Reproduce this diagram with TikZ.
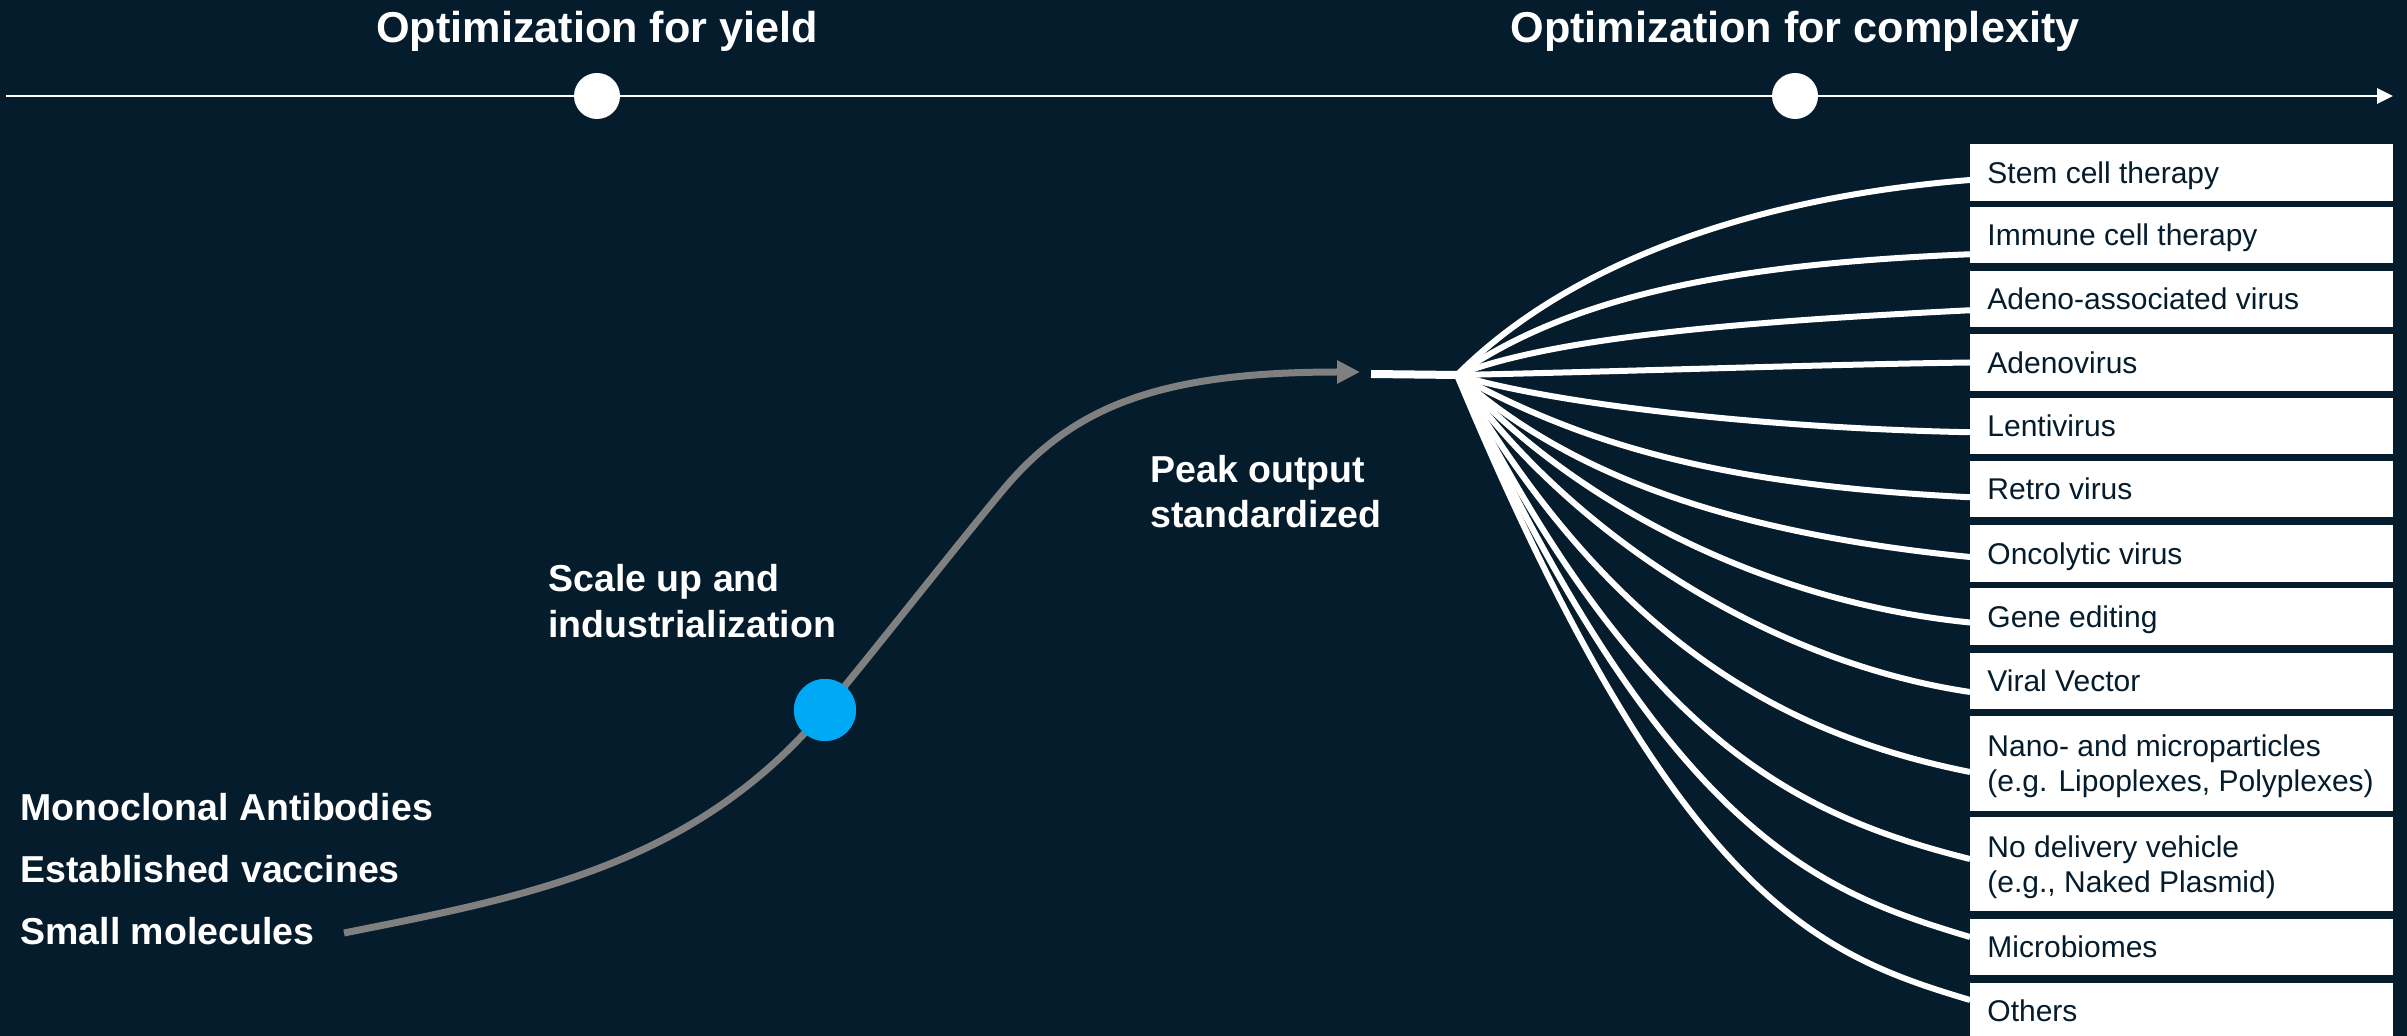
\documentclass[tikz,border=0pt]{standalone}
\usepackage{fontspec}
\setmainfont{Liberation Sans}
\usetikzlibrary{arrows.meta,calc}
\definecolor{bg}{HTML}{051C2C}
\definecolor{curvegray}{HTML}{808080}
\definecolor{dotblue}{HTML}{00A9F4}
\tikzset{
  boxst/.style={fill=white, draw=none, anchor=north west, minimum width=211.5pt, inner sep=0pt, outer sep=0pt},
  btxt/.style={anchor=base west, inner sep=0pt, text=bg, font=\fontsize{15pt}{17.5pt}\selectfont},
  lbl/.style={anchor=base west, inner sep=0pt, text=white, font=\bfseries\fontsize{18.75pt}{22pt}\selectfont},
  hdr/.style={anchor=base, inner sep=0pt, text=white, font=\bfseries\fontsize{21.6pt}{26pt}\selectfont},
  fanline/.style={draw=white, line width=3pt},
  tlcirc/.style={circle, fill=white, minimum size=23pt, inner sep=0pt},
  bluedot/.style={circle, fill=dotblue, minimum size=31pt, inner sep=0pt},
  growth/.style={draw=curvegray, line width=3.5pt, -{Triangle[length=11.5pt,width=11pt]}},
}
\begin{document}
\begin{tikzpicture}[x=0.5pt,y=-0.5pt]
\useasboundingbox (0,0) rectangle (2407,1036);
\fill[bg] (0,0) rectangle (2407,1036);
\clip (0,0) rectangle (2407,1036);

% timeline
\coordinate (tl0) at (6,96);
\coordinate (tl1) at (2393,96);
\draw[white, line width=1.4pt, -{Triangle[length=8pt,width=7.5pt]}] (tl0) -- (tl1);
\node[tlcirc] (c1) at (597,96) {};
\node[tlcirc] (c2) at (1795,96) {};
\node[hdr] (h1) at (597,43) {Optimization for yield};
\node[hdr] (h2) at (1795,43) {Optimization for complexity};

% left labels
\node[lbl] (m1) at (20,820) {Monoclonal Antibodies};
\node[lbl] (m2) at (20,882) {Established vaccines};
\node[lbl] (m3) at (20,944) {Small molecules};
\node[lbl] (s1) at (548,592) {Scale up and};
\node[lbl] (s2) at (548,638) {industrialization};
\node[lbl] (p1) at (1150,483) {Peak output};
\node[lbl] (p2) at (1150,528) {standardized};

% growth curve
\coordinate (gstart) at (344,933);
\coordinate (gmid) at (1003,490);
\coordinate (gend) at (1360,372);
\node[bluedot] (dot) at (825,710) {};
\draw[growth] (gstart) .. controls (524,897) and (695,866) .. (dot.center)
  .. controls (875,650) and (953,550) .. (gmid)
  .. controls (1073,406) and (1160,372) .. (gend);
\node[bluedot] at (dot.center) {};

% boxes
\node[boxst, minimum height=28.5pt]  (b1)  at (1970,144) {};
\node[boxst, minimum height=28.25pt] (b2)  at (1970,207) {};
\node[boxst, minimum height=28.25pt] (b3)  at (1970,271) {};
\node[boxst, minimum height=28.5pt]  (b4)  at (1970,334) {};
\node[boxst, minimum height=28.25pt] (b5)  at (1970,398) {};
\node[boxst, minimum height=28.25pt] (b6)  at (1970,461) {};
\node[boxst, minimum height=28.5pt]  (b7)  at (1970,525) {};
\node[boxst, minimum height=28.5pt]  (b8)  at (1970,588) {};
\node[boxst, minimum height=28pt]    (b9)  at (1970,653) {};
\node[boxst, minimum height=47.5pt]  (b10) at (1970,716) {};
\node[boxst, minimum height=47pt]    (b11) at (1970,817) {};
\node[boxst, minimum height=28pt]    (b12) at (1970,919) {};
\node[boxst, minimum height=28pt]    (b13) at (1970,983) {};

\node[btxt] at ($(b1.west)+(17,10.75)$) {Stem cell therapy};
\node[btxt] at ($(b2.west)+(17,10.75)$) {Immune cell therapy};
\node[btxt] at ($(b3.west)+(17,10.75)$) {Adeno-associated virus};
\node[btxt] at ($(b4.west)+(17,10.75)$) {Adenovirus};
\node[btxt] at ($(b5.west)+(17,10.75)$) {Lentivirus};
\node[btxt] at ($(b6.west)+(17,10.75)$) {Retro virus};
\node[btxt] at ($(b7.west)+(17,10.75)$) {Oncolytic virus};
\node[btxt] at ($(b8.west)+(17,10.75)$) {Gene editing};
\node[btxt] at ($(b9.west)+(17,10.75)$) {Viral Vector};
\node[btxt] at ($(b10.west)+(17,-7)$) {Nano- and microparticles};
\node[btxt] at ($(b10.west)+(17,28)$) {(e.g. Lipoplexes, Polyplexes)};
\node[btxt] at ($(b11.west)+(17,-7)$) {No delivery vehicle};
\node[btxt] at ($(b11.west)+(17,28)$) {(e.g., Naked Plasmid)};
\node[btxt] at ($(b12.west)+(17,10.75)$) {Microbiomes};
\node[btxt] at ($(b13.west)+(17,10.75)$) {Others};

% fan
\coordinate (wstart) at (1371,374);
\coordinate (fan) at (1457,375);
\draw[white, line width=4pt] (wstart) -- (fan);
\draw[fanline] (fan) .. controls +(120,-120) and +(-200,16) .. ($(b1.west)+(0,7.5)$);
\draw[fanline] (fan) .. controls +(120,-84) and +(-220,9) .. ($(b2.west)+(0,19)$);
\draw[fanline] (fan) .. controls +(100,-40) and +(-200,10) .. ($(b3.west)+(0,11)$);
\draw[fanline] (fan) .. controls +(150,-3) and +(-150,2) .. ($(b4.west)+(0,0)$);
\draw[fanline] (fan) .. controls +(100,30) and +(-200,-4) .. ($(b5.west)+(0,6)$);
\draw[fanline] (fan) .. controls +(140,77) and +(-230,-11.5) .. ($(b6.west)+(0,8)$);
\draw[fanline] (fan) .. controls +(120,108) and +(-220,-22) .. ($(b7.west)+(0,3.5)$);
\draw[fanline] (fan) .. controls +(120,132) and +(-200,-20) .. ($(b8.west)+(0,6)$);
\draw[fanline] (fan) .. controls +(115,161) and +(-200,-30) .. ($(b9.west)+(0,11)$);
\draw[fanline] (fan) .. controls +(150,255) and +(-200,-40) .. ($(b10.west)+(0,8.5)$);
\draw[fanline] (fan) .. controls +(180,360) and +(-180,-45) .. ($(b11.west)+(0,-5)$);
\draw[fanline] (fan) .. controls +(210,462) and +(-150,-45) .. ($(b12.west)+(0,-10)$);
\draw[fanline] (fan) .. controls +(220,528) and +(-150,-45) .. ($(b13.west)+(0,-11)$);
\end{tikzpicture}
\end{document}
